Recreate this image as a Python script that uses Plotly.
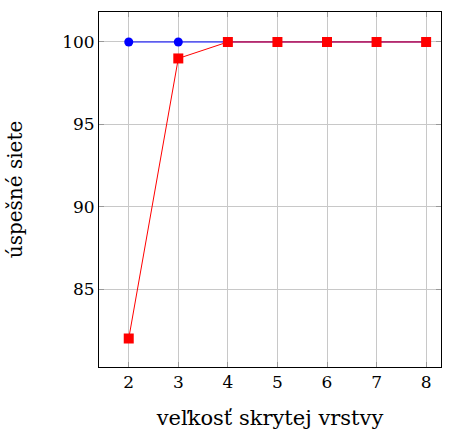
import plotly.graph_objects as go

hidden_sizes = [2, 3, 4, 5, 6, 7, 8]
blue_success = [100, 100, 100, 100, 100, 100, 100]
red_success = [82, 99, 100, 100, 100, 100, 100]
x_ticks = [2, 3, 4, 5, 6, 7, 8]
y_ticks = [85, 90, 95, 100]

font = "DejaVu Serif"

fig = go.Figure()
fig.add_trace(go.Scatter(x=hidden_sizes, y=blue_success, mode="lines+markers",
                         line=dict(color="blue", width=1),
                         marker=dict(symbol="circle", size=9, color="blue"),
                         showlegend=False))
fig.add_trace(go.Scatter(x=hidden_sizes, y=red_success, mode="lines+markers",
                         line=dict(color="red", width=1),
                         marker=dict(symbol="square", size=10, color="red"),
                         showlegend=False))

fig.update_layout(
    width=452, height=430,
    margin=dict(l=99, r=11, t=12, b=63),
    paper_bgcolor="white", plot_bgcolor="white",
    font=dict(family=font, size=17, color="black"),
    xaxis=dict(range=[1.4, 8.3], tickvals=x_ticks, showgrid=True,
               gridcolor="#c8c8c8", gridwidth=1, zeroline=False,
               showline=True, linecolor="black", linewidth=1, mirror="ticks",
               ticks="inside", ticklen=5, tickcolor="#999999",
               automargin=False,
               title=dict(text="veľkosť skrytej vrstvy", standoff=31,
                          font=dict(family=font, size=21))),
    yaxis=dict(range=[80.27, 101.82], tickvals=y_ticks, showgrid=True,
               gridcolor="#c8c8c8", gridwidth=1, zeroline=False,
               showline=True, linecolor="black", linewidth=1, mirror="ticks",
               ticks="inside", ticklen=5, tickcolor="#999999",
               automargin=False,
               title=dict(text="úspešné siete", standoff=34,
                          font=dict(family=font, size=20))),
)

fig.write_html("out.html",
               config={"displayModeBar": False},
               post_script="document.body.style.margin='0';document.body.style.overflow='hidden';")
